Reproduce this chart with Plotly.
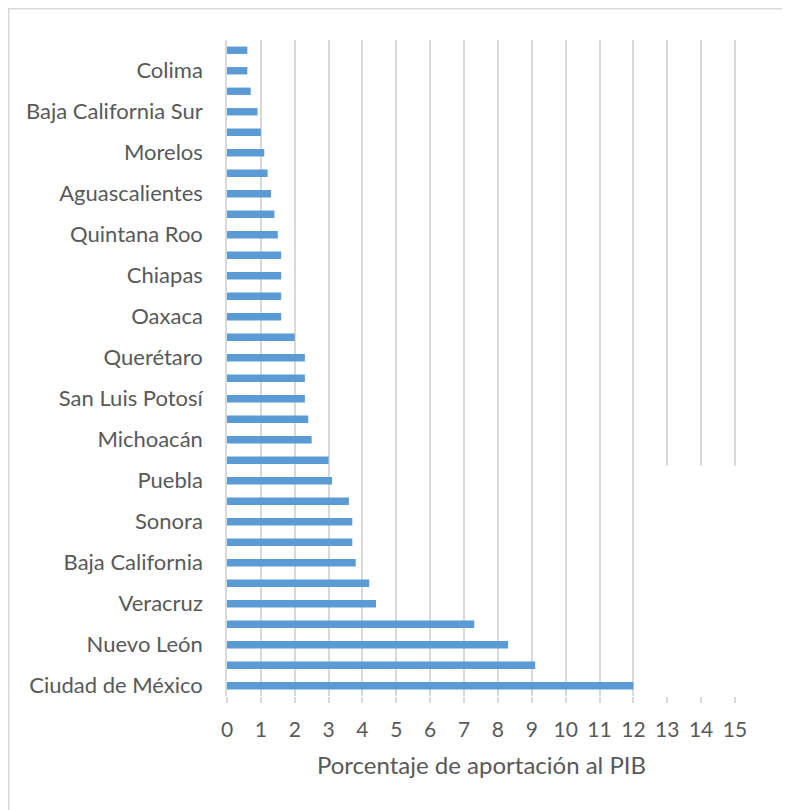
import plotly.graph_objects as go

BAR_COLOUR = '#5b9bd5'
GRID_COLOUR = '#d9d9d9'
TEXT_COLOUR = '#595959'

# Data, bottom to top
ESTADOS = [
    'Ciudad de México', 'Estado de México', 'Nuevo León', 'Jalisco',
    'Veracruz', 'Guanajuato', 'Baja California', 'Coahuila',
    'Sonora', 'Chihuahua', 'Puebla', 'Tamaulipas',
    'Michoacán', 'Sinaloa', 'San Luis Potosí', 'Tabasco',
    'Querétaro', 'Hidalgo', 'Oaxaca', 'Guerrero',
    'Chiapas', 'Yucatán', 'Quintana Roo', 'Durango',
    'Aguascalientes', 'Zacatecas', 'Morelos', 'Campeche',
    'Baja California Sur', 'Nayarit', 'Colima', 'Tlaxcala',
]
APORTACION = [
    12.0, 9.1, 8.3, 7.3,
    4.4, 4.2, 3.8, 3.7,
    3.7, 3.6, 3.1, 3.0,
    2.5, 2.4, 2.3, 2.3,
    2.3, 2.0, 1.6, 1.6,
    1.6, 1.6, 1.5, 1.4,
    1.3, 1.2, 1.1, 1.0,
    0.9, 0.7, 0.6, 0.6,
]
X_TICKS = list(range(0, 16))
ETIQUETAS = ESTADOS[::2]

fig = go.Figure(go.Bar(
    x=APORTACION,
    y=ESTADOS,
    orientation='h',
    marker={'color': BAR_COLOUR, 'line': {'width': 0}},
))

# the page body adds an 8px offset, so margins are shifted by that much
fig.update_layout(
    width=790, height=810,
    margin={'l': 219, 'r': 62, 't': 32, 'b': 122},
    plot_bgcolor='white', paper_bgcolor='white',
    bargap=0.64,
    showlegend=False,
    font={'family': 'Lato, Open Sans, sans-serif', 'color': TEXT_COLOUR, 'size': 21},
)
fig.update_xaxes(
    range=[0, 15.03], tickvals=X_TICKS,
    showgrid=True, gridcolor=GRID_COLOUR, gridwidth=1.5,
    zeroline=False, showline=False,
    ticks='outside', ticklen=6, tickcolor=GRID_COLOUR, tickwidth=1.5,
    ticklabelstandoff=9,
    tickfont={'size': 21},
    title={'text': 'Porcentaje de aportación al PIB', 'font': {'size': 24}, 'standoff': 16},
)
fig.update_yaxes(
    type='category', categoryorder='array', categoryarray=ESTADOS,
    tickvals=ETIQUETAS, ticktext=ETIQUETAS,
    range=[-0.5, len(ESTADOS) - 0.5],
    showgrid=False, zeroline=False,
    showline=True, linecolor=GRID_COLOUR, linewidth=1.5,
    ticks='', ticklabelstandoff=18, tickfont={'size': 22},
)

# white patch over the lower right of the grid, as in the source image
fig.add_shape(type='rect', xref='x', yref='paper', x0=12.03, x1=15.6, y0=0, y1=0.351,
              fillcolor='white', line={'width': 0}, layer='above')
# outer chart border
fig.add_shape(type='rect', xref='paper', yref='paper', x0=-0.4288, x1=1.2, y0=-0.3, y1=1.0476,
              line={'color': GRID_COLOUR, 'width': 1.5}, fillcolor='rgba(0,0,0,0)')

fig.write_html('out.html')
